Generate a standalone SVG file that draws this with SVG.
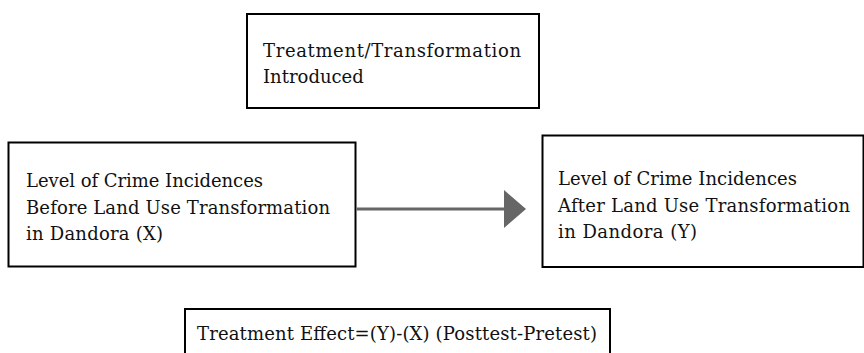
<svg xmlns="http://www.w3.org/2000/svg" width="864" height="353" viewBox="0 0 864 353">
  <style>
    .box { fill: #ffffff; stroke: #000000; stroke-width: 2; }
    .label { font-family: "DejaVu Serif", "Liberation Serif", serif; font-size: 18px; fill: #111111; }
    .flow { stroke: #666666; stroke-width: 3; fill: none; }
  </style>
  <defs>
    <marker id="head" markerUnits="userSpaceOnUse" markerWidth="22" markerHeight="38" refX="0" refY="19" orient="auto">
      <polygon points="0,0 22,19 0,38" fill="#666666"/>
    </marker>
  </defs>
  <rect width="864" height="353" fill="#ffffff"/>

  <g id="treatment">
    <rect class="box" x="247" y="14" width="292" height="94" stroke-width="1.5"/>
    <text class="label" x="263" y="57" textLength="258">Treatment/Transformation</text>
    <text class="label" x="263" y="83">Introduced</text>
  </g>

  <g id="pretest">
    <rect class="box" x="8.5" y="142.5" width="347" height="124"/>
    <text class="label" x="26" y="187" textLength="237">Level of Crime Incidences</text>
    <text class="label" x="26" y="214" textLength="304">Before Land Use Transformation</text>
    <text class="label" x="26" y="240" textLength="137">in Dandora (X)</text>
  </g>

  <g id="posttest">
    <rect class="box" x="542.5" y="135.5" width="321" height="131.5"/>
    <text class="label" x="558" y="185" textLength="239">Level of Crime Incidences</text>
    <text class="label" x="558" y="211.5" textLength="292">After Land Use Transformation</text>
    <text class="label" x="558" y="237.5" textLength="139">in Dandora (Y)</text>
  </g>

  <g id="effect">
    <rect class="box" x="185" y="309" width="425" height="60" stroke="#333333"/>
    <text class="label" x="197" y="340" textLength="400">Treatment Effect=(Y)-(X) (Posttest-Pretest)</text>
  </g>

  <g id="connectors">
    <line class="flow" x1="356.5" y1="209" x2="504" y2="209" marker-end="url(#head)"/>
  </g>
</svg>
